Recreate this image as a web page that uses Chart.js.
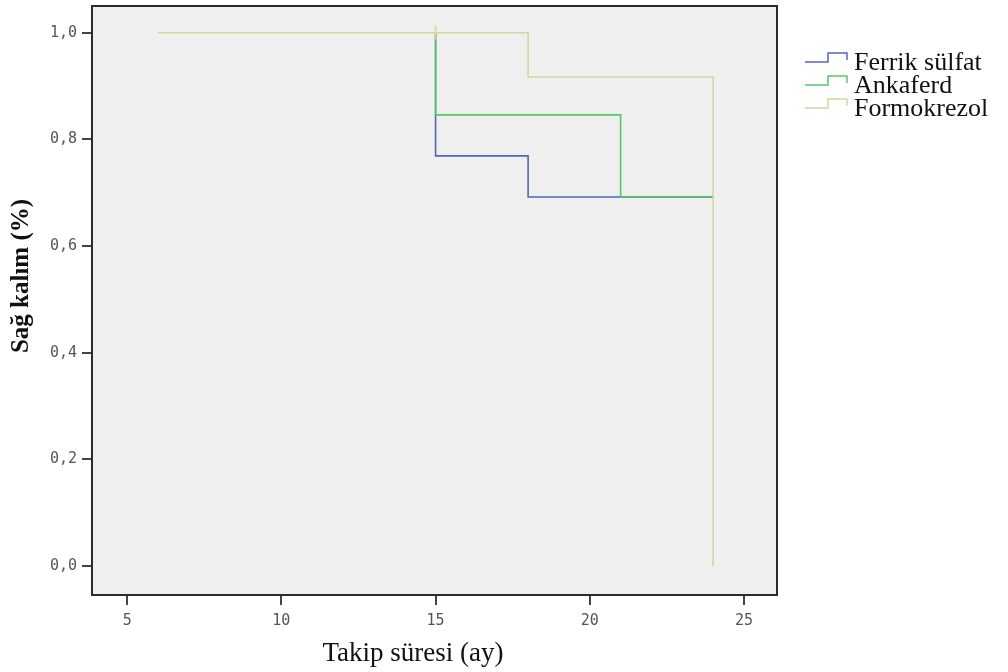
<!DOCTYPE html>
<html>
<head>
<meta charset="utf-8">
<script src="https://cdn.jsdelivr.net/npm/chart.js@4/dist/chart.umd.min.js"></script>
<style>
  html, body { margin: 0; padding: 0; background: #fff; }
  #wrap { width: 1008px; height: 672px; }
</style>
</head>
<body>
<div id="wrap"><canvas id="kmChart" width="1008" height="672"></canvas></div>
<script>
// Kaplan-Meier steps (time in months, survival share)
const seriesNames = ['Ferrik sülfat', 'Ankaferd', 'Formokrezol'];
const seriesColors = ['#5266c2', '#55c963', '#d9d49e'];

const ferrikTimes = [15, 15, 18, 24];
const ferrikSurv = [1.0, 0.769, 0.692, 0.692];

const ankaferdTimes = [15, 15, 21, 24];
const ankaferdSurv = [1.0, 0.846, 0.692, 0.692];

const formoTimes = [6, 15, 18, 24];
const formoSurv = [1.0, 1.0, 0.917, 0.0];
const formoCensored = [false, true, false, false];

const xTicks = [5, 10, 15, 20, 25];
const yTicks = [0, 0.2, 0.4, 0.6, 0.8, 1.0];

function toPoints(xs, ys) {
    return xs.map(function (x, i) { return { x: x, y: ys[i] }; });
}

// plot background, frame, axis titles and step-shaped legend
const decorations = {
    id: 'decorations',
    beforeDatasetsDraw(chart) {
        const a = chart.chartArea;
        const ctx = chart.ctx;
        ctx.save();
        ctx.fillStyle = '#efefef';
        ctx.fillRect(a.left, a.top, a.right - a.left, a.bottom - a.top);
        ctx.restore();
    },
    afterDraw(chart) {
        const a = chart.chartArea;
        const ctx = chart.ctx;
        ctx.save();
        ctx.strokeStyle = '#2b2b2b';
        ctx.lineWidth = 2;
        ctx.strokeRect(a.left, a.top, a.right - a.left, a.bottom - a.top);

        ctx.fillStyle = '#111';
        ctx.textAlign = 'center';
        ctx.textBaseline = 'middle';
        ctx.font = '27px "Liberation Serif"';
        ctx.fillText('Takip süresi (ay)', 413, 654);

        ctx.save();
        ctx.translate(22, 276);
        ctx.rotate(-Math.PI / 2);
        ctx.font = 'bold 25px "Liberation Serif"';
        ctx.fillText('Sağ kalım (%)', 0, 0);
        ctx.restore();

        ctx.textAlign = 'left';
        ctx.font = '26px "Liberation Serif"';
        seriesNames.forEach(function (name, i) {
            const y = 62 + i * 23;
            ctx.strokeStyle = seriesColors[i];
            ctx.lineWidth = 1.5;
            ctx.beginPath();
            ctx.moveTo(805, y);
            ctx.lineTo(828, y);
            ctx.lineTo(828, y - 9);
            ctx.lineTo(847, y - 9);
            ctx.lineTo(847, y - 2);
            ctx.stroke();
            ctx.fillStyle = '#111';
            ctx.fillText(name, 854, y + 1);
        });
        ctx.restore();
    }
};

const ctx = document.getElementById('kmChart').getContext('2d');

new Chart(ctx, {
    type: 'scatter',
    data: {
        datasets: [
            {
                label: seriesNames[2],
                data: toPoints(formoTimes, formoSurv),
                borderColor: seriesColors[2],
                borderWidth: 1.6,
                showLine: true,
                stepped: true,
                fill: false,
                pointStyle: 'line',
                rotation: 90,
                pointRadius: function (c) { return formoCensored[c.dataIndex] ? 7 : 0; },
                pointBorderColor: seriesColors[2],
                pointBorderWidth: 1.6
            },
            {
                label: seriesNames[1],
                data: toPoints(ankaferdTimes, ankaferdSurv),
                borderColor: seriesColors[1],
                borderWidth: 1.6,
                showLine: true,
                stepped: true,
                fill: false,
                pointRadius: 0
            },
            {
                label: seriesNames[0],
                data: toPoints(ferrikTimes, ferrikSurv),
                borderColor: seriesColors[0],
                borderWidth: 1.6,
                showLine: true,
                stepped: true,
                fill: false,
                pointRadius: 0
            }
        ]
    },
    options: {
        responsive: false,
        animation: false,
        layout: { padding: { left: 0, top: 6, right: 231, bottom: 0 } },
        plugins: {
            legend: { display: false },
            tooltip: { enabled: false }
        },
        scales: {
            x: {
                type: 'linear',
                min: 3.86,
                max: 26.07,
                afterBuildTicks: function (scale) {
                    scale.ticks = xTicks.map(function (v) { return { value: v }; });
                },
                afterFit: function (scale) {
                    scale.height = 77;
                    scale.paddingLeft = 0;
                    scale.paddingRight = 0;
                },
                grid: { drawOnChartArea: false, drawTicks: true, tickLength: 10, color: '#444', lineWidth: 2 },
                border: { display: false },
                ticks: {
                    padding: 7,
                    color: '#555',
                    font: { family: '"DejaVu Sans Mono"', size: 15 },
                    callback: function (v) { return String(v); }
                }
            },
            y: {
                type: 'linear',
                min: -0.054,
                max: 1.05,
                afterBuildTicks: function (scale) {
                    scale.ticks = yTicks.map(function (v) { return { value: v }; });
                },
                afterFit: function (scale) {
                    scale.width = 92;
                    scale.paddingTop = 0;
                    scale.paddingBottom = 0;
                },
                grid: { drawOnChartArea: false, drawTicks: true, tickLength: 10, color: '#444', lineWidth: 2 },
                border: { display: false },
                ticks: {
                    padding: 5,
                    color: '#555',
                    font: { family: '"DejaVu Sans Mono"', size: 15 },
                    callback: function (v) { return v.toFixed(1).replace('.', ','); }
                }
            }
        }
    },
    plugins: [decorations]
});
</script>
</body>
</html>
